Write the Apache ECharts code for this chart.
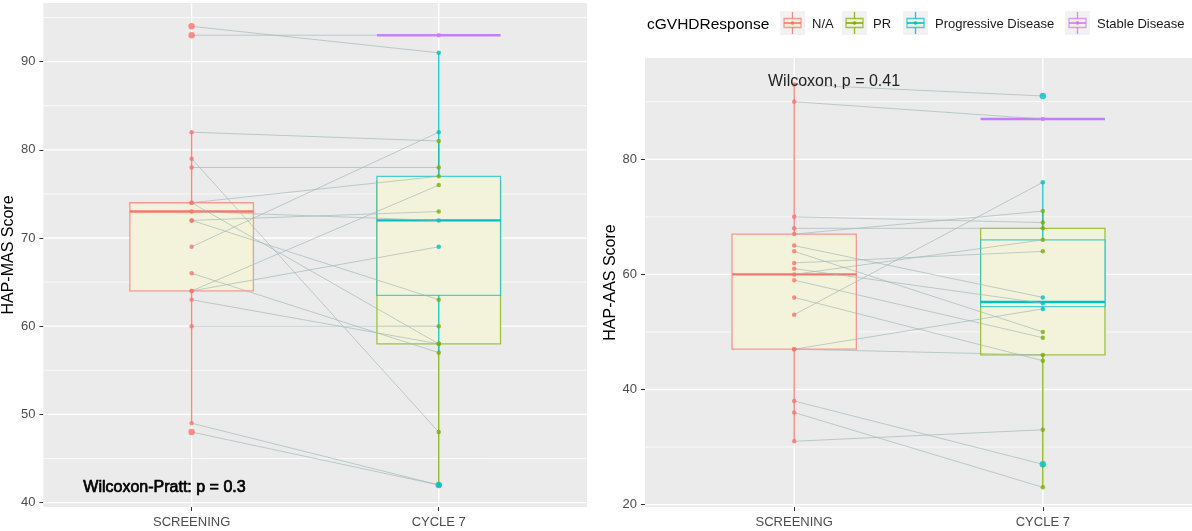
<!DOCTYPE html>
<html><head><meta charset="utf-8">
<script src="https://cdn.jsdelivr.net/npm/echarts@6/dist/echarts.min.js"></script>
<style>html,body{margin:0;padding:0;background:#fff}#c{width:1192px;height:531px}</style>
</head><body><div id="c"></div>
<script>
// ---------- data ----------
const timeLabels = ['SCREENING', 'CYCLE 7'];
const groups = ['N/A', 'PR', 'Progressive Disease', 'Stable Disease'];
const groupColors = ['#F8766D', '#7CAE00', '#00BFC4', '#C77CFF'];

// HAP-MAS (left panel): paired values per patient
const masScreening = [94, 93, 82, 79, 78, 74, 74, 73, 72, 72, 69, 66, 64, 64, 63, 60, 49, 48];
const masCycle7    = [91, 93, 81, 48, 78, 77, 58, 72, 73, 63, 82, 57, 76, 69, 58, 60, 42, 42];
const masResponse  = ['Progressive Disease', 'Stable Disease', 'PR', 'PR', 'PR', 'PR', 'PR', 'Progressive Disease', 'PR', 'PR',
                      'Progressive Disease', 'PR', 'PR', 'Progressive Disease', 'PR', 'PR', 'Progressive Disease', 'PR'];
// box statistics
const masBoxTime  = [1, 2, 2, 2];
const masBoxGroup = ['N/A', 'PR', 'Progressive Disease', 'Stable Disease'];
const masBoxLow   = [49, 42, 57, 93];
const masBoxQ1    = [64, 58, 63.5, 93];
const masBoxMed   = [73, 68, 72, 93];
const masBoxQ3    = [74, 76.5, 77, 93];
const masBoxHigh  = [82, 81, 91, 93];
const masTicks = [40, 50, 60, 70, 80, 90];
const masMinor = [45, 55, 65, 75, 85, 95];

// HAP-AAS (right panel)
const aasScreening = [93, 90, 70, 68, 67, 65, 64, 62, 61, 60, 59, 56, 53, 47, 47, 38, 36, 31];
const aasCycle7    = [91, 87, 69, 68, 71, 56, 50, 64, 55, 66, 49, 45, 76, 54, 46, 27, 23, 33];
const aasResponse  = ['Progressive Disease', 'Stable Disease', 'PR', 'PR', 'PR', 'Progressive Disease', 'PR', 'PR',
                      'Progressive Disease', 'PR', 'PR', 'PR', 'Progressive Disease', 'Progressive Disease', 'PR',
                      'Progressive Disease', 'PR', 'PR'];
const aasBoxTime  = [1, 2, 2, 2];
const aasBoxGroup = ['N/A', 'PR', 'Progressive Disease', 'Stable Disease'];
const aasBoxLow   = [31, 23, 54, 87];
const aasBoxQ1    = [47, 46, 54.4, 87];
const aasBoxMed   = [60, 60, 55.2, 87];
const aasBoxQ3    = [67, 68, 66, 87];
const aasBoxHigh  = [93, 71, 76, 87];
const aasTicks = [20, 40, 60, 80];
const aasMinor = [30, 50, 70, 90];

const xTicks = [1, 2];
const masTitle = 'HAP-MAS Score';
const aasTitle = 'HAP-AAS Score';
const masTest = 'Wilcoxon-Pratt: p = 0.3';
const aasTest = 'Wilcoxon, p = 0.41';
const legendTitle = 'cGVHDResponse';

// ---------- helpers ----------
const FONT = '"Liberation Sans", Arial, sans-serif';
const BOX_HALF = 0.25;
const BOX_FILL = '#F3F3DC';
function rgba(hex, a) {
  const n = parseInt(hex.slice(1), 16);
  return 'rgba(' + (n >> 16) + ',' + ((n >> 8) & 255) + ',' + (n & 255) + ',' + a + ')';
}
function gIdx(name) { return groups.indexOf(name); }

function boxData(time, grp, lo, q1, md, q3, hi) {
  return time.map((t, i) => [t, lo[i], q1[i], md[i], q3[i], hi[i], gIdx(grp[i])]);
}
function renderBox(params, api) {
  const t = api.value(0), lo = api.value(1), q1 = api.value(2), md = api.value(3), q3 = api.value(4), hi = api.value(5);
  const col = groupColors[api.value(6)];
  const top = api.coord([t, hi]), q3p = api.coord([t, q3]), q1p = api.coord([t, q1]), bot = api.coord([t, lo]);
  const tl = api.coord([t - BOX_HALF, q3]), br = api.coord([t + BOX_HALF, q1]);
  const mL = api.coord([t - BOX_HALF, md]), mR = api.coord([t + BOX_HALF, md]);
  return { type: 'group', children: [
    { type: 'line', shape: { x1: top[0], y1: top[1], x2: q3p[0], y2: q3p[1] }, style: { stroke: rgba(col, 0.85), lineWidth: 1.4 } },
    { type: 'line', shape: { x1: q1p[0], y1: q1p[1], x2: bot[0], y2: bot[1] }, style: { stroke: rgba(col, 0.85), lineWidth: 1.4 } },
    { type: 'rect', shape: { x: tl[0], y: tl[1], width: br[0] - tl[0], height: br[1] - tl[1] }, style: { fill: BOX_FILL, stroke: rgba(col, 0.7), lineWidth: 1.3 } },
    { type: 'line', shape: { x1: mL[0], y1: mL[1], x2: mR[0], y2: mR[1] }, style: { stroke: col, lineWidth: 2.4 } }
  ]};
}
function renderPair(params, api) {
  const a = api.coord([xTicks[0], api.value(0)]);
  const b = api.coord([xTicks[1], api.value(1)]);
  return { type: 'line', shape: { x1: a[0], y1: a[1], x2: b[0], y2: b[1] }, style: { stroke: 'rgba(160,182,182,0.65)', lineWidth: 1 } };
}
function renderHGrid(params, api) {
  const cs = params.coordSys;
  const y = api.coord([xTicks[0], api.value(0)])[1];
  const major = api.value(1) === 1;
  return { type: 'line', shape: { x1: cs.x, y1: y, x2: cs.x + cs.width, y2: y }, style: { stroke: '#FFFFFF', lineWidth: major ? 1.3 : 0.7 } };
}
function renderVGrid(params, api) {
  const cs = params.coordSys;
  const x = api.coord([api.value(0), 50])[0];
  return { type: 'line', shape: { x1: x, y1: cs.y, x2: x, y2: cs.y + cs.height }, style: { stroke: '#FFFFFF', lineWidth: 1.3 } };
}
function pointData(scr, cyc, resp, boxLo, boxHi) {
  const items = [];
  const limits = g => [boxLo[g], boxHi[g]];
  scr.forEach(v => {
    const [lo, hi] = limits(0);
    items.push({ value: [xTicks[0], v], g: 0, itemStyle: { color: groupColors[0] }, symbolSize: (v < lo || v > hi) ? 6.5 : 4.5 });
  });
  cyc.forEach((v, i) => {
    const g = gIdx(resp[i]);
    const [lo, hi] = limits(g);
    items.push({ value: [xTicks[1], v], g: g, itemStyle: { color: groupColors[g] }, symbolSize: (v < lo || v > hi) ? 6.5 : 4.5 });
  });
  items.sort((a, b) => a.g - b.g);
  return items;
}

function panelSeries(gi, scr, cyc, resp, boxes, ticks, minor, boxLo, boxHi) {
  const hgrid = ticks.map(v => [v, 1]).concat(minor.map(v => [v, 0]));
  return [
    { type: 'custom', xAxisIndex: gi, yAxisIndex: gi, z: 1, silent: true, renderItem: renderHGrid, data: hgrid, encode: { y: 0 } },
    { type: 'custom', xAxisIndex: gi, yAxisIndex: gi, z: 1, silent: true, renderItem: renderVGrid, data: xTicks.map(v => [v]), encode: { x: 0 } },
    { type: 'custom', xAxisIndex: gi, yAxisIndex: gi, z: 2, silent: true, renderItem: renderBox, data: boxes, encode: { x: 0, y: [1, 2, 3, 4, 5] } },
    { type: 'custom', xAxisIndex: gi, yAxisIndex: gi, z: 3, silent: true, renderItem: renderPair, data: scr.map((v, i) => [v, cyc[i]]), encode: { y: [0, 1] } },
    { type: 'scatter', xAxisIndex: gi, yAxisIndex: gi, z: 4, silent: true, symbol: 'circle', data: pointData(scr, cyc, resp, boxLo, boxHi) }
  ];
}

function xAxisCfg(gi) {
  return {
    gridIndex: gi, type: 'value', min: 0.4, max: 2.6,
    axisLine: { show: false }, splitLine: { show: false },
    axisTick: { show: true, length: 4, customValues: xTicks, lineStyle: { color: '#333333' } },
    axisLabel: { customValues: xTicks, formatter: v => timeLabels[Math.round(v) - 1], color: '#4D4D4D', fontSize: 13, margin: 9, fontFamily: FONT }
  };
}
function yAxisCfg(gi, min, max, ticks, name, gap) {
  return {
    gridIndex: gi, type: 'value', min: min, max: max,
    axisLine: { show: false }, splitLine: { show: false },
    axisTick: { show: true, length: 4, customValues: ticks, lineStyle: { color: '#333333' } },
    axisLabel: { customValues: ticks, color: '#4D4D4D', fontSize: 13, margin: 8, fontFamily: FONT },
    name: name, nameLocation: 'middle', nameGap: gap, nameRotate: 90,
    nameTextStyle: { color: '#000000', fontSize: 16, fontFamily: FONT }
  };
}

// legend (drawn as graphic, text kept as real text)
function legendKey(x, color) {
  const y0 = 11, s = 24, cx = x + 12.5;
  return { type: 'group', children: [
    { type: 'rect', shape: { x: x, y: y0, width: 25, height: s }, style: { fill: '#F2F2F2' } },
    { type: 'line', shape: { x1: cx, y1: y0 + 1, x2: cx, y2: y0 + s - 1 }, style: { stroke: rgba(color, 0.85), lineWidth: 1.3 } },
    { type: 'rect', shape: { x: x + 4, y: y0 + 7.5, width: 17, height: 9 }, style: { fill: BOX_FILL, stroke: rgba(color, 0.7), lineWidth: 1.3 } },
    { type: 'line', shape: { x1: x + 4, y1: y0 + 12, x2: x + 21, y2: y0 + 12 }, style: { stroke: color, lineWidth: 1.6 } },
    { type: 'circle', shape: { cx: cx, cy: y0 + 12, r: 1.8 }, style: { fill: color } }
  ]};
}
const keyX = [780, 842, 903, 1065];
const keyTextX = [812, 873, 935, 1097];
const legendGraphics = [
  { type: 'text', left: 647, top: 17, style: { text: legendTitle, fill: '#000', font: '15.5px ' + FONT } }
];
groups.forEach((g, i) => {
  legendGraphics.push(legendKey(keyX[i], groupColors[i]));
  legendGraphics.push({ type: 'text', left: keyTextX[i], top: 18, style: { text: g, fill: '#1A1A1A', font: '13px ' + FONT } });
});

const chart = echarts.init(document.getElementById('c'), null, { renderer: 'canvas' });
chart.setOption({
  backgroundColor: '#FFFFFF',
  animation: false,
  textStyle: { fontFamily: FONT },
  grid: [
    { left: 40, top: 3, width: 547, height: 504, show: true, backgroundColor: '#EBEBEB', borderWidth: 0 },
    { left: 645, top: 58, width: 547, height: 449, show: true, backgroundColor: '#EBEBEB', borderWidth: 0 }
  ],
  xAxis: [xAxisCfg(0), xAxisCfg(1)],
  yAxis: [
    yAxisCfg(0, 39.5, 96.65, masTicks, masTitle, 25),
    yAxisCfg(1, 19.58, 97.6, aasTicks, aasTitle, 26)
  ],
  series: [].concat(
    panelSeries(0, masScreening, masCycle7, masResponse,
      boxData(masBoxTime, masBoxGroup, masBoxLow, masBoxQ1, masBoxMed, masBoxQ3, masBoxHigh), masTicks, masMinor, masBoxLow, masBoxHigh),
    panelSeries(1, aasScreening, aasCycle7, aasResponse,
      boxData(aasBoxTime, aasBoxGroup, aasBoxLow, aasBoxQ1, aasBoxMed, aasBoxQ3, aasBoxHigh), aasTicks, aasMinor, aasBoxLow, aasBoxHigh)
  ),
  graphic: legendGraphics.concat([
    { type: 'text', left: 83, top: 479, z: 10, style: { text: masTest, fill: '#000', stroke: '#000', lineWidth: 0.7, font: '16px ' + FONT } },
    { type: 'text', left: 768, top: 74, z: 10, style: { text: aasTest, fill: '#222', font: '16px ' + FONT } }
  ])
});
</script>
</body></html>
